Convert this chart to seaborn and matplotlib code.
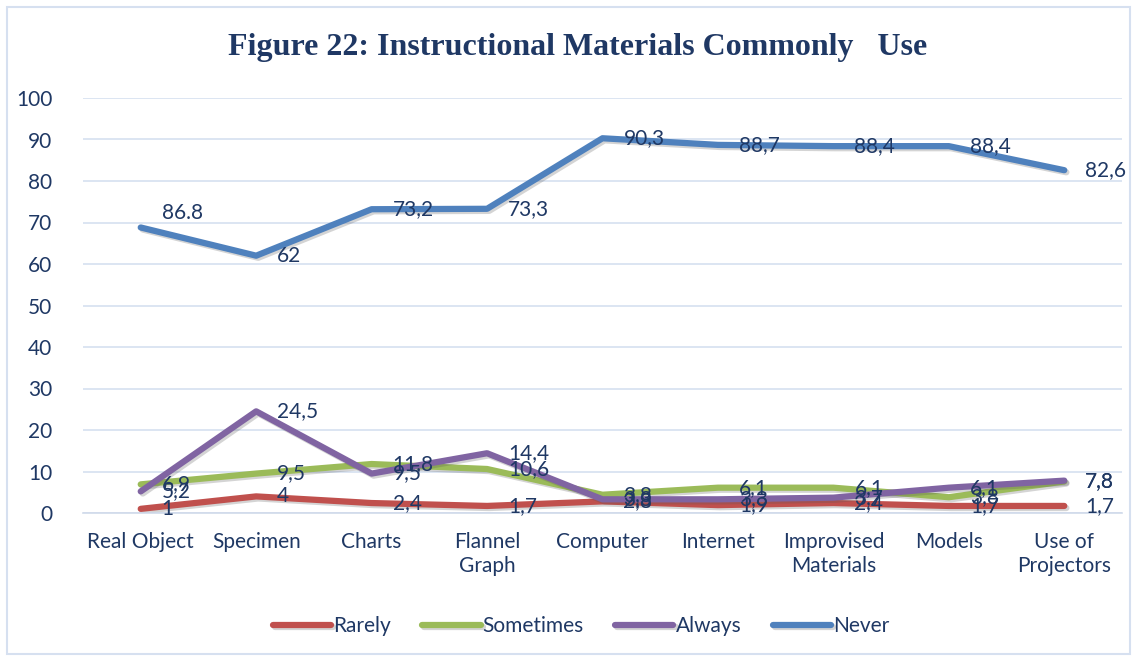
import matplotlib

matplotlib.use("Agg")
import matplotlib.pyplot as plt
import matplotlib.patheffects as pe
import numpy as np
import pandas as pd
import seaborn as sns

categories = ["Real Object", "Specimen", "Charts", "Flannel\nGraph", "Computer",
              "Internet", "Improvised\nMaterials", "Models", "Use of\nProjectors"]
series = ["Rarely", "Sometimes", "Always", "Never"]

rarely = [1.0, 4.0, 2.4, 1.7, 2.8, 1.9, 2.4, 1.7, 1.7]
sometimes = [6.9, 9.5, 11.8, 10.6, 4.4, 6.1, 6.1, 3.8, 7.6]
always = [5.2, 24.5, 9.5, 14.4, 3.3, 3.3, 3.7, 6.1, 7.8]
never = [68.8, 62.0, 73.2, 73.3, 90.3, 88.7, 88.4, 88.4, 82.6]

# data labels as printed on the chart (note the first one differs from the point)
rarely_labels = ["1", "4", "2,4", "1,7", "2,8", "1,9", "2,4", "1,7", "1,7"]
sometimes_labels = ["6,9", "9,5", "11,8", "10,6", "3,8", "6,1", "6,1", "3,8", "7,8"]
always_labels = ["5,2", "24,5", "9,5", "14,4", "3,3", "3,3", "3,7", "6,1", "7,8"]
never_labels = ["86.8", "62", "73,2", "73,3", "90,3", "88,7", "88,4", "88,4", "82,6"]

colors = ["#C0504D", "#9BBB59", "#8064A2", "#4F81BD"]
text_color = "#1F3864"

sns.set_theme(style="white")
plt.rcParams["font.family"] = ["Lato", "DejaVu Sans"]

values = [rarely, sometimes, always, never]
labels = [rarely_labels, sometimes_labels, always_labels, never_labels]
pos = np.arange(len(categories))
df = pd.DataFrame({
    "pos": np.tile(pos, len(series)),
    "value": np.concatenate(values),
    "series": np.repeat(series, len(categories)),
})

fig = plt.figure(figsize=(11.37, 6.61), dpi=100)
ax = fig.add_axes([83 / 1137, 148 / 661, 1039 / 1137, 415 / 661])

sns.lineplot(data=df, x="pos", y="value", hue="series", hue_order=series,
             palette=colors, linewidth=4.5, sort=False, ax=ax, legend=True,
             solid_capstyle="round")
for line in ax.lines:
    line.set_path_effects([pe.SimpleLineShadow(offset=(1.5, -1.5), alpha=0.25, shadow_color="#555555"),
                           pe.Normal()])

for vals, labs in zip(values, labels):
    for x, v, t in zip(pos, vals, labs):
        # the first "Never" label sits a little above its point in the original
        dy = 14 if t == "86.8" else 0
        ax.annotate(t, (x, v), xytext=(21, dy), textcoords="offset pixels",
                    ha="left", va="center", fontsize=15, color=text_color)

ax.set_xlim(-0.5, len(categories) - 0.5)
ax.set_ylim(0, 100)
ax.set_yticks(range(0, 101, 10))
ax.set_xticks(pos)
ax.set_xticklabels(categories, linespacing=1.2)
ax.set_xticks(np.arange(-0.5, len(categories), 1.0), minor=True)
ax.tick_params(axis="x", which="major", length=0, pad=14, labelsize=15, labelcolor=text_color)
ax.tick_params(axis="x", which="minor", length=6, color="#D0DAEA", width=1)
ax.tick_params(axis="y", length=0, pad=22, labelsize=15, labelcolor=text_color)
ax.grid(axis="y", color="#D6E0F0", linewidth=1.2)
ax.set_xlabel("")
ax.set_ylabel("")
for s in ["left", "right", "top"]:
    ax.spines[s].set_visible(False)
ax.spines["bottom"].set_color("#D0DAEA")
ax.spines["bottom"].set_linewidth(1.2)

handles, hlabels = ax.get_legend_handles_labels()
ax.legend_.remove()
leg = fig.legend(handles, hlabels, loc="center", bbox_to_anchor=(0.511, 35 / 661), ncol=4,
                 frameon=False, fontsize=15, handlelength=2.8, handletextpad=0.1,
                 columnspacing=1.5)
for t in leg.get_texts():
    t.set_color(text_color)
for h in leg.legend_handles:
    h.set_linewidth(4.5)
    h.set_solid_capstyle("round")

fig.text(0.508, 1 - 47 / 661, "Figure 22: Instructional Materials Commonly   Use",
         ha="center", va="center", fontsize=23, fontweight="bold",
         family=["Liberation Serif", "DejaVu Serif"], color=text_color)

fig.patches.append(plt.Rectangle((7 / 1137, 7 / 661), 1 - 14 / 1137, 1 - 14 / 661,
                                 transform=fig.transFigure, fill=False,
                                 edgecolor="#D6E0F0", linewidth=1.5))

fig.savefig("out.png", dpi=100)
